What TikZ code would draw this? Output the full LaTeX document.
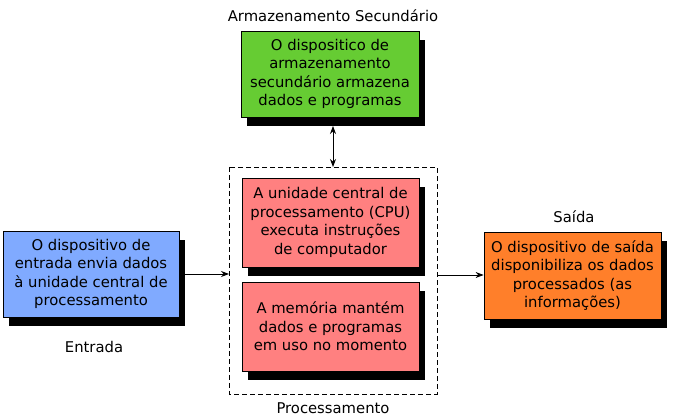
\documentclass[tikz,border=0pt]{standalone}
\usepackage{fontspec}
\setmainfont{DejaVu Sans}
\usetikzlibrary{shadows,arrows.meta}
\definecolor{cgreen}{RGB}{102,204,51}
\definecolor{cblue}{RGB}{128,170,255}
\definecolor{cred}{RGB}{255,128,128}
\definecolor{corange}{RGB}{255,127,42}
\tikzset{
  boxstyle/.style={draw=black, line width=0.8pt, align=center, inner sep=0pt,
    font=\fontsize{14.8}{18.5}\selectfont,
    drop shadow={shadow xshift=6pt, shadow yshift=-9pt, fill=black, opacity=1}},
  lbl/.style={font=\fontsize{14.8}{17}\selectfont, inner sep=0pt},
  conn/.style={line width=0.8pt, -{Stealth[length=8pt,width=6pt]}}
}
\begin{document}
\begin{tikzpicture}[x=1pt,y=-1pt]
\useasboundingbox (0,0) rectangle (673,419);
\node[boxstyle, fill=cgreen, minimum width=178pt, minimum height=86pt] (sec) at (330,74)
  {O dispositico de\\armazenamento\\secundário armazena\\dados e programas};
\node[lbl] (seclbl) at (333,16) {Armazenamento Secundário};
\draw[line width=0.8pt, dashed, dash pattern=on 5pt off 3pt] (229,167) rectangle (437,394);
\coordinate (dtop) at (333,167);
\coordinate (dleft) at (229,274);
\coordinate (dright) at (437,275);
\node[boxstyle, fill=cred, minimum width=177pt, minimum height=89pt] (cpu) at (330.5,222.5)
  {A unidade central de\\processamento (CPU)\\executa instruções\\de computador};
\node[boxstyle, fill=cred, minimum width=177pt, minimum height=89pt] (mem) at (330.5,326.5)
  {A memória mantém\\dados e programas\\em uso no momento};
\node[lbl] (proclbl) at (333,408) {Processamento};
\node[boxstyle, fill=cblue, minimum width=176pt, minimum height=86pt] (ent) at (91,274)
  {O dispositivo de\\entrada envia dados\\à unidade central de\\processamento};
\node[lbl] (entlbl) at (94,347) {Entrada};
\node[boxstyle, fill=corange, minimum width=177pt, minimum height=87pt] (sai) at (572.5,275.5)
  {O dispositivo de saída\\disponibiliza os dados\\processados (as\\informações)};
\node[lbl] (sailbl) at (574,217) {Saída};
\coordinate (secb) at (333,126);
\draw[conn, {Stealth[length=8pt,width=6pt]}-{Stealth[length=8pt,width=6pt]}] (secb) -- (dtop);
\draw[conn] (ent.east) -- (dleft);
\draw[conn] (dright) -- (sai.west |- dright);
\end{tikzpicture}
\end{document}
